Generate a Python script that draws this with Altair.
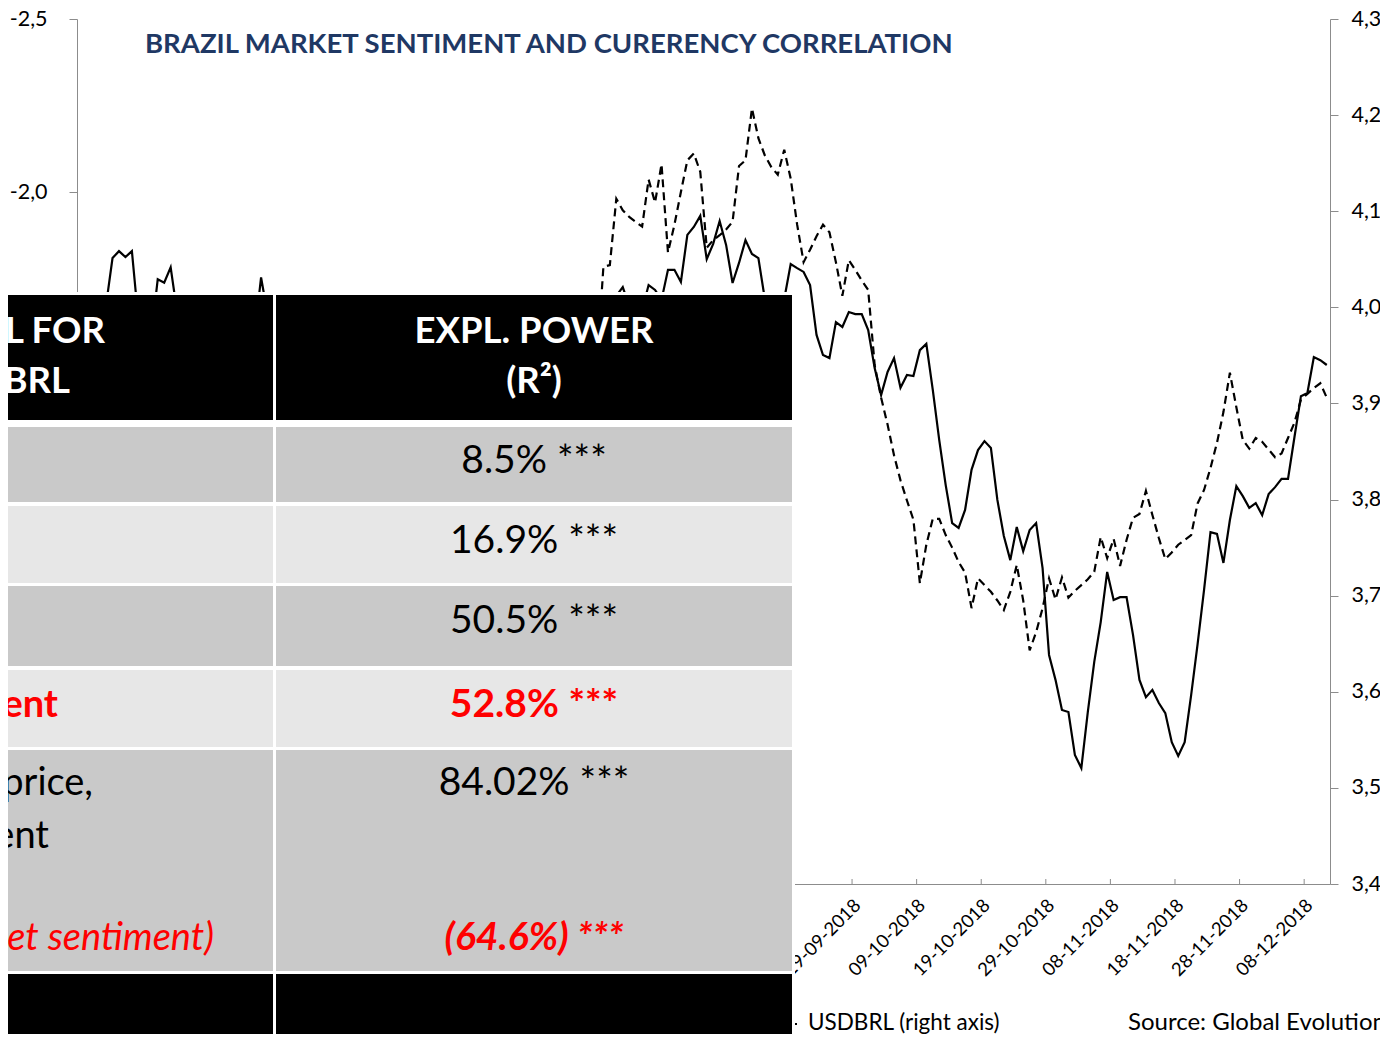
import datetime as dt
import altair as alt
import pandas as pd

START = dt.datetime(2018, 6, 1)

# ---------------- data ----------------
# USDBRL (right axis, dashed): day offset from 1 June 2018 and value
usd_day = [0, 6, 14, 19, 28, 36, 43, 52, 60, 70, 76, 80,
           81, 82, 83, 84, 85, 87, 88, 89, 90, 91, 92, 93, 94, 95, 96, 97, 98, 99,
           100, 101, 102, 103, 104, 105, 106, 107, 108, 109, 110, 111, 112, 113, 114,
           115, 116, 117, 118, 119, 120, 121, 122, 123, 124, 125, 126, 127, 128, 129,
           130, 131, 132, 133, 134, 135, 136, 137, 138, 139, 140, 141, 142, 143, 144,
           145, 146, 147, 148, 149, 150, 151, 152, 153, 154, 155, 156, 157, 158, 159,
           160, 161, 162, 163, 164, 165, 166, 167, 168, 169, 170, 171, 172, 173, 174,
           175, 176, 177, 178, 179, 180, 181, 182, 183, 184, 185, 186, 187, 188, 189,
           190, 191, 192, 193]
usd_val = [3.74, 3.92, 3.72, 3.78, 3.87, 3.86, 3.87, 3.74, 3.76, 3.86, 3.90, 3.94,
           4.042, 4.044, 4.113, 4.101, 4.094, 4.084, 4.133, 4.109, 4.149, 4.057, 4.086, 4.120, 4.153, 4.160, 4.141, 4.062, 4.070, 4.075,
           4.081, 4.089, 4.147, 4.153, 4.207, 4.176, 4.158, 4.146, 4.138, 4.164, 4.134, 4.086, 4.047, 4.060, 4.074,
           4.086, 4.078, 4.047, 4.012, 4.049, 4.039, 4.028, 4.018, 3.940, 3.906, 3.878, 3.846, 3.820, 3.799, 3.779,
           3.713, 3.753, 3.780, 3.780, 3.763, 3.750, 3.735, 3.724, 3.687, 3.718, 3.711, 3.704, 3.695, 3.685, 3.704,
           3.732, 3.695, 3.643, 3.662, 3.687, 3.718, 3.696, 3.719, 3.698, 3.705, 3.711, 3.717, 3.725, 3.761, 3.739,
           3.759, 3.731, 3.758, 3.781, 3.785, 3.809, 3.784, 3.760, 3.738, 3.745, 3.753, 3.758, 3.763, 3.796, 3.810,
           3.833, 3.859, 3.891, 3.932, 3.896, 3.862, 3.853, 3.864, 3.860, 3.852, 3.844, 3.848, 3.864, 3.880, 3.904,
           3.910, 3.916, 3.921, 3.906]

# Market sentiment (left axis, inverted, solid)
sent_day = [0, 2, 4, 5, 6, 7, 8, 9, 11, 12, 13, 14, 15, 17, 20, 24, 27, 28, 29, 33, 38, 44,
            50, 56, 62, 68, 74, 79, 82, 83, 84, 85, 87, 88, 89, 90, 91, 92, 93, 94, 95, 96,
            97, 98, 99, 100, 101, 102, 103, 104, 105, 106, 107, 108, 109, 110, 111, 112, 113,
            114, 115, 116, 117, 118, 119, 120, 121, 122, 123, 124, 125, 126, 127, 128, 129,
            130, 131, 132, 133, 134, 135, 136, 137, 138, 139, 140, 141, 142, 143, 144, 145,
            146, 147, 148, 149, 150, 151, 152, 153, 154, 155, 156, 157, 158, 159, 160, 161,
            162, 163, 164, 165, 166, 167, 168, 169, 170, 171, 172, 173, 174, 175, 176, 177,
            178, 179, 180, 181, 182, 183, 184, 185, 186, 187, 188, 189, 190, 191, 192, 193]
sent_val = [-1.55, -1.62, -1.673, -1.809, -1.829, -1.812, -1.829, -1.630, -1.584, -1.748, -1.738, -1.782, -1.653, -1.58, -1.50, -1.55, -1.587, -1.753, -1.647, -1.52, -1.45, -1.50,
            -1.40, -1.45, -1.38, -1.45, -1.52, -1.62, -1.68, -1.70, -1.725, -1.67, -1.659, -1.731, -1.717, -1.688, -1.775, -1.775, -1.740, -1.876, -1.899, -1.931,
            -1.806, -1.850, -1.916, -1.847, -1.737, -1.795, -1.861, -1.821, -1.809, -1.69, -1.62, -1.64, -1.69, -1.792, -1.780, -1.769, -1.731,
            -1.587, -1.529, -1.520, -1.624, -1.610, -1.653, -1.647, -1.647, -1.601, -1.491, -1.413, -1.480, -1.520, -1.434, -1.471, -1.468,
            -1.543, -1.561, -1.428, -1.283, -1.153, -1.043, -1.029, -1.081, -1.197, -1.254, -1.280, -1.260, -1.110, -1.006, -0.936, -1.032,
            -0.962, -1.023, -1.043, -0.913, -0.662, -0.590, -0.503, -0.497, -0.373, -0.335, -0.497, -0.642, -0.757, -0.902, -0.821, -0.829,
            -0.829, -0.720, -0.590, -0.540, -0.561, -0.523, -0.494, -0.410, -0.370, -0.410, -0.546, -0.693, -0.850, -1.017, -1.012, -0.928,
            -1.052, -1.150, -1.121, -1.087, -1.101, -1.066, -1.127, -1.147, -1.171, -1.171, -1.292, -1.410, -1.419, -1.523, -1.514, -1.500]

tick_day = list(range(0, 191, 10))          # x-axis tick marks every 10 days
label_day = list(range(120, 191, 10))       # labelled ticks not hidden by the table
left_ticks = [-2.5, -2.0]                   # lower ticks lie under the table
right_ticks = [3.4, 3.5, 3.6, 3.7, 3.8, 3.9, 4.0, 4.1, 4.2, 4.3]

title_text = "BRAZIL MARKET SENTIMENT AND CURERENCY CORRELATION"
legend_text = "USDBRL (right axis)"
source_text = "Source: Global Evolution"

# table texts (only the visible part of the overlaid table)
tbl_text = ["EL FOR", "DBRL", "EXPL. POWER", "(R\u00b2)",
            "8.5% ***", "16.9% ***", "50.5% ***",
            "ent", "52.8% ***",
            "price,", "84.02% ***", "ent",
            "et sentiment)", "(64.6%) ***"]
tbl_style = ["head_r", "head_r", "head_c", "head_c",
             "body_c", "body_c", "body_c",
             "redb_r", "redb_c",
             "body_r", "body_c", "body_r",
             "redi_r", "redbi_c"]

# ---------------- layout (pixels, relative to plot origin) ----------------
W, H = 1253, 865
COL_B_CENTER = 457
tbl_x = [28, -7, COL_B_CENTER, COL_B_CENTER,
         COL_B_CENTER, COL_B_CENTER, COL_B_CENTER,
         -19, COL_B_CENTER,
         16, COL_B_CENTER, -28,
         137, COL_B_CENTER]
tbl_y = [324, 374, 324, 374,
         454, 534, 614,
         698, 698,
         776, 776, 829,
         931, 931]
row_bounds = [(276, 401, "#000000"), (408, 483, "#C9C9C9"), (487, 564, "#E7E7E7"),
              (567, 647, "#C9C9C9"), (651, 728, "#E7E7E7"), (731, 952, "#C9C9C9"),
              (955, 1040, "#000000")]
col_bounds = [(-100, 196), (199, 715)]

FONT = "Lato"
GRAY = "#8C8C8C"

df_usd = pd.DataFrame({
    "date": [(START + dt.timedelta(days=d, hours=12)).isoformat() for d in usd_day],
    "value": usd_val})
df_sent = pd.DataFrame({
    "date": [(START + dt.timedelta(days=d, hours=12)).isoformat() for d in sent_day],
    "value": sent_val})
df_ticks = pd.DataFrame({"date": [(START + dt.timedelta(days=d)).isoformat() for d in tick_day]})

label_dt = [START + dt.timedelta(days=d) for d in label_day]
x_values = [alt.DateTime(year=t.year, month=t.month, date=t.day) for t in label_dt]
x_domain = [alt.DateTime(year=2018, month=6, date=1), alt.DateTime(year=2018, month=12, date=12)]

x_axis = alt.Axis(values=x_values, format="%d-%m-%Y", labelAngle=-45, labelAlign="right",
                  labelBaseline="middle", labelFontSize=18.5, labelFont=FONT, labelColor="black",
                  tickSize=0, domainColor=GRAY, labelPadding=18, labelOffset=5, grid=False,
                  title=None, labelOverlap=False, labelFlush=False, labelBound=False)
x_enc = alt.X("date:T", scale=alt.Scale(domain=x_domain, nice=False), axis=x_axis)

fmt = "replace(replace(format(datum.value, '.1f'), '.', ','), '\u2212', '-')"
yl_axis = alt.Axis(orient="left", values=left_ticks, labelExpr=fmt, tickSize=8, labelPadding=22,
                   labelFontSize=21.5, labelFont=FONT, labelColor="black", domainColor=GRAY,
                   tickColor=GRAY, grid=False, title=None)
yr_axis = alt.Axis(orient="right", values=right_ticks, labelExpr=fmt, tickSize=8, labelPadding=13,
                   labelFontSize=21.5, labelFont=FONT, labelColor="black", domainColor=GRAY,
                   tickColor=GRAY, grid=False, title=None)

solid = alt.Chart(df_sent).mark_line(color="black", strokeWidth=2.2).encode(
    x=x_enc,
    y=alt.Y("value:Q", scale=alt.Scale(domain=[-2.5, 0], reverse=True, nice=False, zero=False), axis=yl_axis))

dashed = alt.Chart(df_usd).mark_line(color="black", strokeWidth=2.2, strokeDash=[8, 5]).encode(
    x=x_enc,
    y=alt.Y("value:Q", scale=alt.Scale(domain=[3.4, 4.3], nice=False, zero=False), axis=yr_axis))

xticks = alt.Chart(df_ticks).mark_rule(color=GRAY, strokeWidth=1).encode(
    x=x_enc, y=alt.value(H - 5), y2=alt.value(H))

title = alt.Chart(pd.DataFrame({"t": [title_text]})).mark_text(
    font=FONT, fontSize=27.5, fontWeight="bold", color="#1F3864", align="left", baseline="alphabetic"
).encode(text="t:N", x=alt.value(68), y=alt.value(34))

legend_rule = alt.Chart(pd.DataFrame({"t": [legend_text]})).mark_rule(
    color="black", strokeWidth=2, strokeDash=[8, 5]).encode(
    x=alt.value(691), x2=alt.value(720), y=alt.value(1005))
legend = alt.Chart(pd.DataFrame({"t": [legend_text]})).mark_text(
    font=FONT, fontSize=22.5, color="black", align="left", baseline="alphabetic"
).encode(text="t:N", x=alt.value(731), y=alt.value(1011))
source = alt.Chart(pd.DataFrame({"t": [source_text]})).mark_text(
    font=FONT, fontSize=24, color="black", align="left", baseline="alphabetic"
).encode(text="t:N", x=alt.value(1051), y=alt.value(1011))

# table
tbl_bg = alt.Chart(pd.DataFrame({"t": ["table"]})).mark_rect(color="white").encode(
    x=alt.value(-100), x2=alt.value(718), y=alt.value(273), y2=alt.value(1040))

cells = []
for (y1, y2, fill) in row_bounds:
    for (x1, x2) in col_bounds:
        cells.append({"x1": x1, "x2": x2, "y1": y1, "y2": y2, "fill": fill})
df_cells = pd.DataFrame(cells)
tbl_cells = alt.Chart(df_cells).mark_rect().encode(
    x=alt.X("x1:Q", scale=None, axis=None), x2="x2:Q",
    y=alt.Y("y1:Q", scale=None, axis=None), y2="y2:Q",
    color=alt.Color("fill:N", scale=None, legend=None))

df_tt = pd.DataFrame({"text": tbl_text, "style": tbl_style, "x": tbl_x, "y": tbl_y})
styles = {
    "head_r": dict(color="white", fontWeight="bold", fontStyle="normal", align="right", fontSize=36.5),
    "head_c": dict(color="white", fontWeight="bold", fontStyle="normal", align="center", fontSize=36.5),
    "body_c": dict(color="black", fontWeight="normal", fontStyle="normal", align="center", fontSize=39),
    "body_r": dict(color="black", fontWeight="normal", fontStyle="normal", align="right", fontSize=38),
    "redb_r": dict(color="#FF0000", fontWeight="bold", fontStyle="normal", align="right", fontSize=38),
    "redb_c": dict(color="#FF0000", fontWeight="bold", fontStyle="normal", align="center", fontSize=39),
    "redi_r": dict(color="#FF0000", fontWeight="normal", fontStyle="italic", align="right", fontSize=38),
    "redbi_c": dict(color="#FF0000", fontWeight="bold", fontStyle="italic", align="center", fontSize=39),
}
text_layers = []
for name, st in styles.items():
    sub = df_tt[df_tt["style"] == name]
    text_layers.append(
        alt.Chart(sub).mark_text(font=FONT, baseline="alphabetic", **st).encode(
            text="text:N",
            x=alt.X("x:Q", scale=None, axis=None),
            y=alt.Y("y:Q", scale=None, axis=None)))

chart = alt.layer(
    solid, dashed, xticks, title, legend_rule, legend, source, tbl_bg, tbl_cells, *text_layers
).resolve_scale(y="independent").properties(
    width=W, height=H, autosize="none",
    padding={"left": 69, "top": 11, "right": 50, "bottom": 150},
    background="white"
).configure_view(strokeWidth=0)

chart.save("out.html", embed_options={"renderer": "svg", "actions": False})
